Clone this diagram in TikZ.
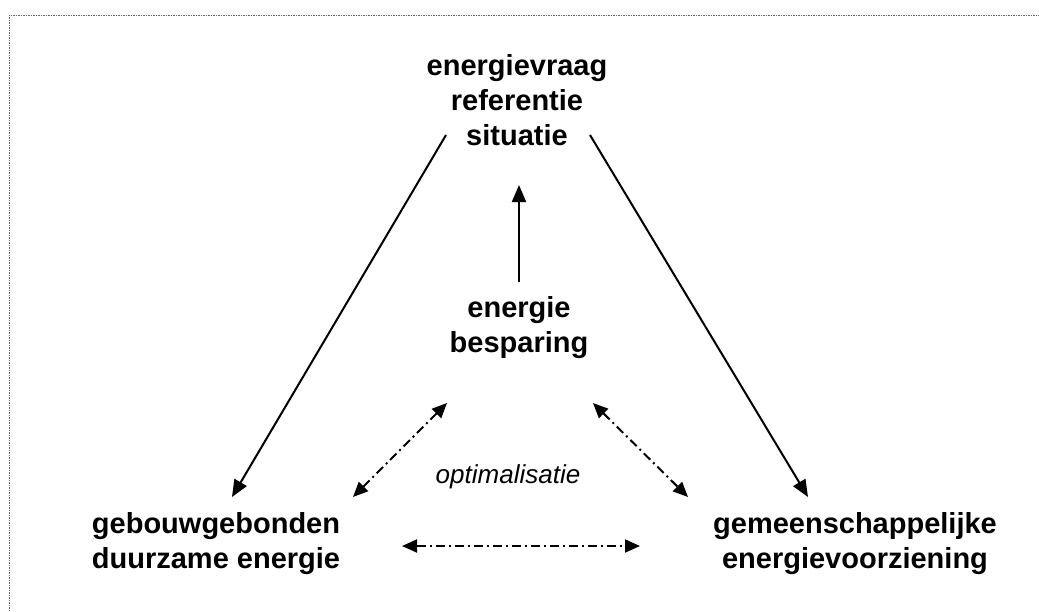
\documentclass[tikz,border=0pt]{standalone}
\usepackage{fontspec}
\setmainfont{Liberation Sans}
\usetikzlibrary{arrows.meta}
\begin{document}
\begin{tikzpicture}[x=1pt,y=-1pt,
  block/.style={font=\fontsize{29}{35}\selectfont\bfseries, align=center, inner sep=0pt, anchor=base},
  note/.style={font=\fontsize{26}{31}\selectfont\itshape, inner sep=0pt, anchor=base},
  flow/.style={line width=2pt, -{Triangle[length=17pt,width=14pt]}},
  trade/.style={line width=2pt, {Triangle[length=15pt,width=13pt]}-{Triangle[length=15pt,width=13pt]},
                dash pattern=on 9pt off 4pt on 2pt off 4pt},
  frame/.style={black!60, line width=0.9pt, dash pattern=on 1.5pt off 1pt}]
\useasboundingbox (0,0) rectangle (1039,611);

% page frame (top and left edges only)
\draw[frame] (9,611) -- (9,15) -- (1039,15);

% text blocks (anchored at the baseline of their last line)
\node[block] (demand) at (517,145) {energievraag\\referentie\\situatie};
\node[block] (saving) at (519,352) {energie\\besparing};
\node[block] (onsite) at (216,568) {gebouwgebonden\\duurzame energie};
\node[block] (collective) at (855,568) {gemeenschappelijke\\energievoorziening};
\node[note] (optim) at (508,483) {optimalisatie};

% connector end points
\coordinate (saveUp)   at (519,282);
\coordinate (demandIn) at (519,185);
\coordinate (demandL)  at (446,135);
\coordinate (onsiteIn) at (232,497);
\coordinate (demandR)  at (590,135);
\coordinate (collIn)   at (808,497);
\coordinate (onsiteUp) at (353,497);
\coordinate (saveL)    at (447,403);
\coordinate (saveR)    at (593,403);
\coordinate (collUp)   at (688,497);
\coordinate (onsiteR)  at (402,546);
\coordinate (collL)    at (640,546);

% main flows
\draw[flow] (saveUp) -- (demandIn);
\draw[flow] (demandL) -- (onsiteIn);
\draw[flow] (demandR) -- (collIn);

% optimisation trade-offs
\draw[trade] (onsiteUp) -- (saveL);
\draw[trade] (saveR) -- (collUp);
\draw[trade] (onsiteR) -- (collL);
\end{tikzpicture}
\end{document}
